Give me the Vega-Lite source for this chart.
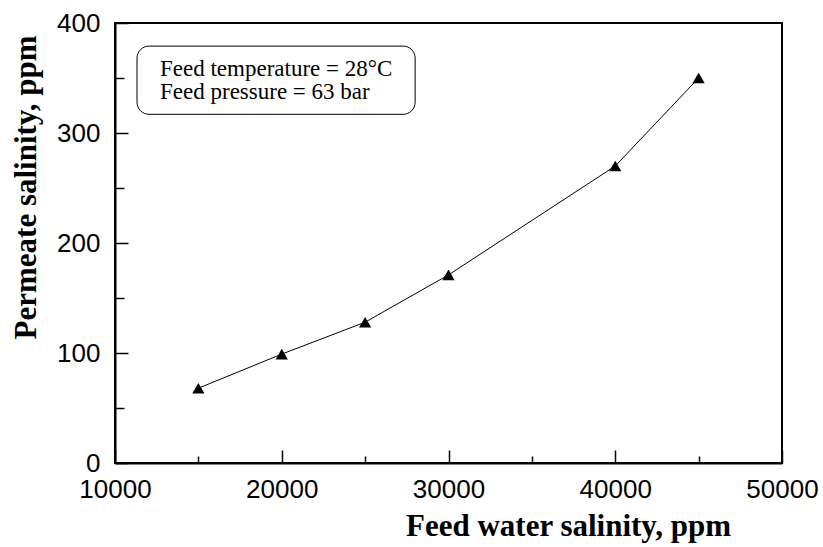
{
  "$schema": "https://vega.github.io/schema/vega-lite/v6.json",
  "width": 667,
  "height": 440,
  "autosize": "none",
  "padding": {"left": 115, "top": 23, "right": 41, "bottom": 84},
  "background": "white",
  "config": {
    "view": {"stroke": "black", "strokeWidth": 2},
    "axis": {
      "grid": false,
      "domainColor": "black",
      "domainWidth": 2,
      "tickColor": "black",
      "tickWidth": 1.5,
      "labelFont": "Liberation Sans",
      "labelFontSize": 26,
      "labelColor": "black",
      "titleFont": "Liberation Serif",
      "titleFontWeight": "bold",
      "titleFontSize": 31,
      "titleColor": "black"
    }
  },
  "datasets": {
    "points": [
      {"feed": 15000, "permeate": 68},
      {"feed": 20000, "permeate": 99},
      {"feed": 25000, "permeate": 128},
      {"feed": 30000, "permeate": 171},
      {"feed": 40000, "permeate": 270},
      {"feed": 45000, "permeate": 350}
    ],
    "box": [
      {"feed": 11320, "feed2": 28000, "permeate": 379, "permeate2": 317}
    ],
    "notes": [
      {"feed": 12700, "permeate": 352, "label": "Feed temperature = 28°C"},
      {"feed": 12700, "permeate": 331, "label": "Feed pressure = 63 bar"}
    ]
  },
  "layer": [
    {
      "data": {"name": "points"},
      "mark": {"type": "line", "color": "black", "strokeWidth": 1},
      "encoding": {
        "x": {
          "field": "feed",
          "type": "quantitative",
          "scale": {"domain": [10000, 50000], "nice": false, "zero": false},
          "axis": {
            "title": "Feed water salinity, ppm",
            "values": [10000, 15000, 20000, 25000, 30000, 35000, 40000, 45000, 50000],
            "labelExpr": "datum.value % 10000 === 0 ? format(datum.value, 'd') : ''",
            "tickSize": {"condition": {"test": "datum.value % 10000 === 0", "value": -13}, "value": -7},
            "labelPadding": 26,
            "labelFlush": false,
            "labelOverlap": false,
            "titleX": 453,
            "titleY": 72,
            "titleAlign": "center",
            "titleBaseline": "alphabetic"
          }
        },
        "y": {
          "field": "permeate",
          "type": "quantitative",
          "scale": {"domain": [0, 400], "nice": false},
          "axis": {
            "title": "Permeate salinity, ppm",
            "values": [0, 50, 100, 150, 200, 250, 300, 350, 400],
            "labelExpr": "datum.value % 100 === 0 ? format(datum.value, 'd') : ''",
            "tickSize": {"condition": {"test": "datum.value % 100 === 0", "value": -13}, "value": -9},
            "labelPadding": 28,
            "labelFlush": false,
            "labelOverlap": false,
            "titleX": -80,
            "titleY": 164,
            "titleAngle": -90,
            "titleAlign": "center",
            "titleBaseline": "alphabetic"
          }
        }
      }
    },
    {
      "data": {"name": "points"},
      "mark": {"type": "point", "shape": "triangle-up", "filled": true, "color": "black", "opacity": 1, "size": 150},
      "encoding": {
        "x": {"field": "feed", "type": "quantitative"},
        "y": {"field": "permeate", "type": "quantitative"}
      }
    },
    {
      "data": {"name": "box"},
      "mark": {"type": "rect", "fill": "white", "stroke": "black", "strokeWidth": 1, "cornerRadius": 12},
      "encoding": {
        "x": {"field": "feed", "type": "quantitative"},
        "x2": {"field": "feed2"},
        "y": {"field": "permeate", "type": "quantitative"},
        "y2": {"field": "permeate2"}
      }
    },
    {
      "data": {"name": "notes"},
      "mark": {"type": "text", "font": "Liberation Serif", "fontSize": 23, "align": "left", "baseline": "alphabetic", "color": "black"},
      "encoding": {
        "x": {"field": "feed", "type": "quantitative"},
        "y": {"field": "permeate", "type": "quantitative"},
        "text": {"field": "label"}
      }
    }
  ]
}
